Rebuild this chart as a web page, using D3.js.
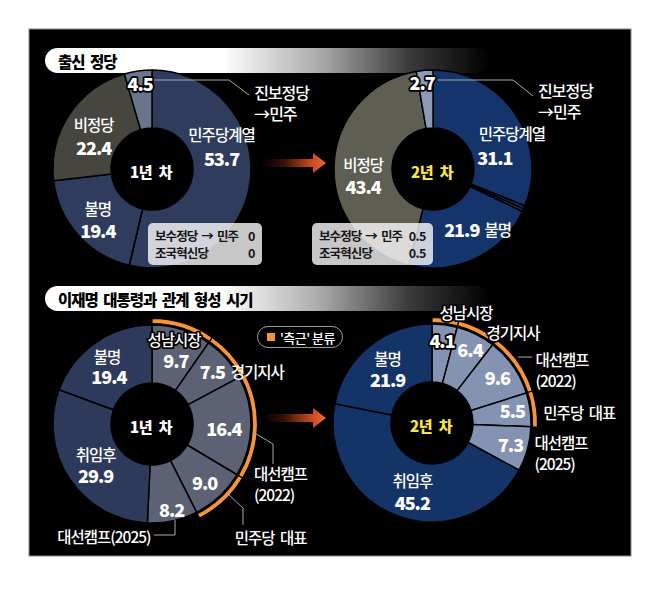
<!DOCTYPE html>
<html><head><meta charset="utf-8">
<script src="https://cdn.jsdelivr.net/npm/d3@7"></script>
<style>
body{margin:0;background:#fff}
svg text{font-family:"Noto Sans CJK KR","Noto Sans",sans-serif}
</style>
</head><body>
<svg id="c" width="658" height="590"></svg>
<script>
// ---------------- DATA ----------------
const titles = ["출신 정당", "이재명 대통령과 관계 형성 시기"];
const yearLabels = ["1년 차", "2년 차"];
const partyCats = ["민주당계열", "보수정당→민주", "조국혁신당", "불명", "비정당", "진보정당→민주"];
const partyYear1 = [53.7, 0, 0, 19.4, 22.4, 4.5];
const partyYear2 = [31.1, 0.5, 0.5, 21.9, 43.4, 2.7];
const relCats = ["성남시장", "경기지사", "대선캠프(2022)", "민주당 대표", "대선캠프(2025)", "취임후", "불명"];
const relYear1 = [9.7, 7.5, 16.4, 9.0, 8.2, 29.9, 19.4];
const relYear2 = [4.1, 6.4, 9.6, 5.5, 7.3, 45.2, 21.9];
const closeGroup = ["성남시장", "경기지사", "대선캠프(2022)", "민주당 대표"];
const closeLegend = "'측근' 분류";
const boxCats = ["보수정당→민주", "조국혁신당"];
const boxNames = ["보수정당 → 민주", "조국혁신당"];

// ---------------- STYLE / LAYOUT ----------------
const R = 99, r0 = 41, labelR = 70;
const svg = d3.select("#c");
const defs = svg.append("defs");

svg.append("rect").attr("x", 29).attr("y", 29).attr("width", 602).attr("height", 527)
  .attr("fill", "#000").attr("stroke", "#8a8a8a").attr("stroke-width", 1);

// title gradient
const tg = defs.append("linearGradient").attr("id", "tg").attr("x1", 0).attr("x2", 1).attr("y1", 0).attr("y2", 0);
[[0, "#fff"], [0.40, "#fff"], [0.62, "#a9a9a9"], [0.82, "#3a3a3a"], [1, "#000"]]
  .forEach(s => tg.append("stop").attr("offset", s[0]).attr("stop-color", s[1]));

[[48, titles[0]], [286, titles[1]]].forEach(([y, t]) => {
  svg.append("rect").attr("x", 45).attr("y", y).attr("width", 445).attr("height", 25)
    .attr("rx", 12.5).attr("fill", "url(#tg)");
  svg.append("text").attr("x", 58).attr("y", y + 12.5).attr("dominant-baseline", "central")
    .attr("font-size", 15.5).attr("font-weight", 900).attr("letter-spacing", -1)
    .attr("word-spacing", 3).attr("fill", "#000").text(t);
});

// arrows
const ag = defs.append("linearGradient").attr("id", "ag").attr("x1", 0).attr("x2", 1).attr("y1", 0).attr("y2", 0);
[[0, "#000"], [0.35, "#3a1306"], [0.75, "#c2481f"], [1, "#f0643a"]]
  .forEach(s => ag.append("stop").attr("offset", s[0]).attr("stop-color", s[1]));
[163, 418].forEach(y => {
  svg.append("path").attr("fill", "url(#ag)")
    .attr("d", `M263,${y - 4}H313V${y - 10}L326,${y}L313,${y + 10}V${y + 4}H263Z`);
});

// legend pill
const lg = svg.append("g");
lg.append("rect").attr("x", 257.5).attr("y", 326.5).attr("width", 85).attr("height", 21).attr("rx", 10.5)
  .attr("fill", "#000").attr("stroke", "#9a9a9a").attr("stroke-width", 1);
lg.append("rect").attr("x", 267).attr("y", 333).attr("width", 8).attr("height", 8).attr("fill", "#f7943a");
lg.append("text").attr("x", 280).attr("y", 337).attr("dominant-baseline", "central")
  .attr("font-size", 13).attr("font-weight", 500).attr("letter-spacing", -0.5).attr("fill", "#fff").text(closeLegend);

const fmt = d3.format(".1f");
const fmtBox = d3.format("~g");

const charts = [
  { cx: 152, cy: 169, cats: partyCats, vals: partyYear1, year: 0,
    colors: ["#2f3c5e", "#2f3c5e", "#2f3c5e", "#2f3c5e", "#46463f", "#68758b"],
    labels: [
      { cat: "민주당계열", kind: "name", dx: 0, dy: -43 },
      { cat: "민주당계열", kind: "value", dx: 0, dy: -19 },
      { cat: "불명", kind: "name", dx: -2, dy: -8 },
      { cat: "불명", kind: "value", dx: -2, dy: 14 },
      { cat: "비정당", kind: "name", dx: 0, dy: -6 },
      { cat: "비정당", kind: "value", dx: 0, dy: 17 },
      { cat: "진보정당→민주", kind: "value", dx: -2, dy: -17, outline: true },
      { cat: "진보정당→민주", kind: "name", dx: 112, dy: -8, anchor: "start", lines: ["진보정당", "→민주"], size: 16 }
    ],
    leaders: [[[0, -89], [77, -89], [97, -74]]],
    box: { x: -4, y: 54, w: 114, h: 42 } },
  { cx: 433, cy: 169, cats: partyCats, vals: partyYear2, year: 1,
    colors: ["#14346b", "#14346b", "#14346b", "#14346b", "#5f5e53", "#8e9bb7"],
    labels: [
      { cat: "민주당계열", kind: "name", dx: 21, dy: 3 },
      { cat: "민주당계열", kind: "value", dx: 4, dy: 27 },
      { cat: "불명", kind: "value", dx: -1, dy: -3 },
      { cat: "불명", kind: "name", dx: 35, dy: -3 },
      { cat: "비정당", kind: "name", dx: 0, dy: -2 },
      { cat: "비정당", kind: "value", dx: 0, dy: 20 },
      { cat: "진보정당→민주", kind: "value", dx: -5, dy: -17, outline: true },
      { cat: "진보정당→민주", kind: "name", dx: 111, dy: -9, anchor: "start", lines: ["진보정당", "→민주"], size: 16 }
    ],
    leaders: [[[5, -89], [80, -89], [100, -73]]],
    box: { x: -121, y: 54, w: 121, h: 42 } },
  { cx: 152, cy: 424, cats: relCats, vals: relYear1, year: 0,
    colors: ["#5c6273", "#5c6273", "#5c6273", "#5c6273", "#5c6273", "#2e3a5c", "#2e3a5c"],
    labels: [
      { cat: "성남시장", kind: "name", dx: 1, dy: -18, outline: true },
      { cat: "성남시장", kind: "value", dx: 3, dy: 3 },
      { cat: "경기지사", kind: "value", dx: 8, dy: -7 },
      { cat: "경기지사", kind: "name", dx: 53, dy: -7 },
      { cat: "대선캠프(2022)", kind: "value", dx: 2, dy: 2 },
      { cat: "대선캠프(2022)", kind: "name", dx: 32, dy: 47, anchor: "start", lines: ["대선캠프", "(2022)"] },
      { cat: "민주당 대표", kind: "value", dx: 5, dy: 7 },
      { cat: "민주당 대표", kind: "name", dx: 35, dy: 62, anchor: "start" },
      { cat: "대선캠프(2025)", kind: "value", dx: 5, dy: 17 },
      { cat: "대선캠프(2025)", kind: "name", dx: -16, dy: 44, anchor: "end" },
      { cat: "취임후", kind: "name", dx: 2, dy: -9 },
      { cat: "취임후", kind: "value", dx: 2, dy: 12 },
      { cat: "불명", kind: "name", dx: -5, dy: -11 },
      { cat: "불명", kind: "value", dx: -3, dy: 9 }
    ],
    leaders: [[[101, 8], [121, 20], [121, 40]], [[76, 70], [91, 84], [91, 101]], [[2, 111], [23, 111], [23, 96]]] },
  { cx: 432, cy: 423, cats: relCats, vals: relYear2, year: 1,
    colors: ["#8593b2", "#8593b2", "#8593b2", "#8593b2", "#8593b2", "#143468", "#143468"],
    labels: [
      { cat: "성남시장", kind: "value", dx: 1, dy: -14, outline: true },
      { cat: "성남시장", kind: "name", dx: 25, dy: -42, outline: true },
      { cat: "경기지사", kind: "value", dx: 7, dy: -11 },
      { cat: "경기지사", kind: "name", dx: 50, dy: -28, outline: true },
      { cat: "대선캠프(2022)", kind: "value", dx: 8, dy: -6 },
      { cat: "대선캠프(2022)", kind: "name", dx: 46, dy: -24, anchor: "start", lines: ["대선캠프", "(2022)"] },
      { cat: "민주당 대표", kind: "value", dx: 11, dy: -4 },
      { cat: "민주당 대표", kind: "name", dx: 42, dy: -2, anchor: "start" },
      { cat: "대선캠프(2025)", kind: "value", dx: 11, dy: 3 },
      { cat: "대선캠프(2025)", kind: "name", dx: 35, dy: 1, anchor: "start", lines: ["대선캠프", "(2025)"] },
      { cat: "취임후", kind: "name", dx: 4, dy: -9 },
      { cat: "취임후", kind: "value", dx: 4, dy: 13 },
      { cat: "불명", kind: "name", dx: 0, dy: -11 },
      { cat: "불명", kind: "value", dx: 0, dy: 10 }
    ],
    leaders: [[[86, -66], [100, -66]]] }
];

const pie = d3.pie().sort(null).value(d => d.v);
const arc = d3.arc().innerRadius(r0).outerRadius(R);
const ringArc = d3.arc().innerRadius(100.5).outerRadius(105.5);
const lblArc = d3.arc().innerRadius(labelR).outerRadius(labelR);

charts.forEach(ch => {
  const data = ch.cats.map((c, i) => ({ c, v: ch.vals[i] }));
  const color = d3.scaleOrdinal().domain(ch.cats).range(ch.colors);
  const arcs = pie(data);
  const byCat = new Map(arcs.map(a => [a.data.c, a]));
  const g = svg.append("g").attr("transform", `translate(${ch.cx},${ch.cy})`);

  g.selectAll("path.s").data(arcs).join("path").attr("class", "s")
    .attr("d", arc).attr("fill", d => color(d.data.c))
    .attr("stroke", "#000").attr("stroke-width", 1.5).attr("stroke-linejoin", "round");

  if (ch.cats === relCats) {
    g.selectAll("path.ring").data(arcs.filter(a => closeGroup.includes(a.data.c))).join("path")
      .attr("class", "ring").attr("d", ringArc).attr("fill", "#f7943a")
      .attr("stroke", "#000").attr("stroke-width", 1.2);
  }

  // leader lines
  ch.leaders.forEach(pts => {
    g.append("path").attr("d", d3.line()(pts)).attr("fill", "none")
      .attr("stroke", "#a9a9a9").attr("stroke-width", 1);
  });

  // center label
  g.append("text").attr("x", -1).attr("y", 2).attr("text-anchor", "middle").attr("dominant-baseline", "central")
    .attr("font-size", 15).attr("font-weight", 800).attr("letter-spacing", -0.6).attr("word-spacing", 4)
    .attr("fill", ch.year === 0 ? "#fff" : "#f7e34a").text(yearLabels[ch.year]);

  // slice labels
  ch.labels.forEach(L => {
    const a = byCat.get(L.cat);
    const [x0, y0] = lblArc.centroid(a);
    const isVal = L.kind === "value";
    const lines = isVal ? [fmt(a.data.v)] : (L.lines || [L.cat]);
    const t = g.append("text")
      .attr("x", x0 + L.dx).attr("y", y0 + L.dy)
      .attr("text-anchor", L.anchor || "middle").attr("dominant-baseline", "central")
      .attr("font-size", L.size || (isVal ? 18 : 15.5))
      .attr("font-weight", isVal ? 800 : 500)
      .attr("letter-spacing", -1).attr("word-spacing", 3)
      .attr("fill", "#fff");
    if (L.outline) t.attr("stroke", "#000").attr("stroke-width", 3.5).attr("paint-order", "stroke").attr("stroke-linejoin", "round");
    lines.forEach((ln, i) => {
      t.append("tspan").attr("x", x0 + L.dx).attr("dy", i === 0 ? 0 : 21).text(ln);
    });
  });

  // zero / tiny-value box
  if (ch.box) {
    const b = ch.box;
    const bg = g.append("g");
    bg.append("rect").attr("x", b.x).attr("y", b.y).attr("width", b.w).attr("height", b.h).attr("rx", 5)
      .attr("fill", "rgba(255,255,255,0.78)");
    boxCats.forEach((c, i) => {
      const yy = b.y + 12.5 + i * 17;
      bg.append("text").attr("x", b.x + 7).attr("y", yy).attr("dominant-baseline", "central")
        .attr("font-size", 12.5).attr("font-weight", 700).attr("letter-spacing", -0.9).attr("word-spacing", 2)
        .attr("fill", "#151515").text(boxNames[i]);
      bg.append("text").attr("x", b.x + b.w - 7).attr("y", yy).attr("dominant-baseline", "central")
        .attr("text-anchor", "end")
        .attr("font-size", 12.5).attr("font-weight", 700).attr("letter-spacing", -0.5).attr("fill", "#151515")
        .text(fmtBox(byCat.get(c).data.v));
    });
  }
});
</script>
</body></html>
